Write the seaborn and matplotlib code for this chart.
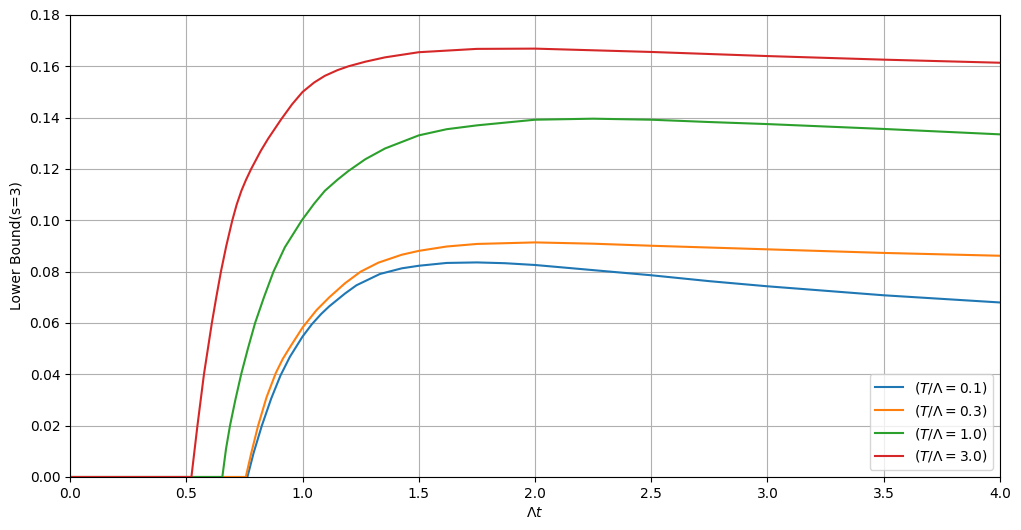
import matplotlib
matplotlib.use("Agg")
import matplotlib.pyplot as plt
import seaborn as sns
import pandas as pd

# Data
x_t01 = [0, 0.763, 0.79, 0.825, 0.865, 0.905, 0.9455, 1.0, 1.04, 1.08, 1.115, 1.183, 1.232, 1.333, 1.427, 1.5, 1.62, 1.75, 1.87, 2.0, 2.25, 2.5, 2.75, 3.0, 3.5, 4.0]
y_t01 = [0, 0, 0.0095, 0.020, 0.0305, 0.0395, 0.0468, 0.0547, 0.0595, 0.0635, 0.0665, 0.0715, 0.0747, 0.0791, 0.0813, 0.0823, 0.0834, 0.0836, 0.0833, 0.0826, 0.0806, 0.0786, 0.0763, 0.0743, 0.0708, 0.068]

x_t03 = [0, 0.756, 0.78, 0.809, 0.845, 0.885, 0.915, 0.9455, 1.0, 1.06, 1.115, 1.183, 1.25, 1.326, 1.427, 1.5, 1.62, 1.75, 2.0, 2.25, 2.5, 3.0, 3.5, 4.0]
y_t03 = [0, 0, 0.0095, 0.020, 0.031, 0.0405, 0.046, 0.0505, 0.0582, 0.0650, 0.0700, 0.0755, 0.0800, 0.0835, 0.0866, 0.0881, 0.0898, 0.0908, 0.0914, 0.0909, 0.0901, 0.0887, 0.0873, 0.0862]

x_t10 = [0, 0.655, 0.671, 0.688, 0.711, 0.736, 0.765, 0.796, 0.834, 0.875, 0.924, 0.997, 1.05, 1.096, 1.15, 1.197, 1.27, 1.355, 1.5, 1.62, 1.75, 2.0, 2.25, 2.5, 2.75, 3.0, 3.5, 4.0]
y_t10 = [0, 0, 0.011, 0.020, 0.030, 0.040, 0.050, 0.060, 0.070, 0.080, 0.0895, 0.100, 0.1065, 0.1115, 0.1158, 0.1192, 0.1238, 0.1280, 0.1331, 0.1355, 0.1370, 0.1392, 0.1396, 0.1392, 0.1383, 0.1375, 0.1356, 0.1335]

x_t30 = [0, 0.522, 0.535, 0.548, 0.562, 0.576, 0.593, 0.610, 0.629, 0.649, 0.672, 0.698, 0.717, 0.737, 0.757, 0.779, 0.82, 0.852, 0.907, 0.955, 1.0, 1.05, 1.096, 1.15, 1.197, 1.27, 1.355, 1.5, 1.75, 2.0, 2.5, 3.0, 3.5, 4.0]
y_t30 = [0, 0, 0.010, 0.020, 0.030, 0.040, 0.050, 0.060, 0.070, 0.080, 0.090, 0.100, 0.1062, 0.1115, 0.1158, 0.120, 0.1270, 0.1318, 0.1392, 0.1452, 0.1500, 0.1537, 0.1563, 0.1585, 0.1600, 0.1618, 0.1635, 0.1655, 0.1668, 0.1669, 0.1656, 0.1640, 0.1626, 0.1614]

labels = [r"$(T/\Lambda = 0.1)$", r"$(T/\Lambda = 0.3)$", r"$(T/\Lambda = 1.0)$", r"$(T/\Lambda = 3.0)$"]
colors = ["#1f77b4", "#ff7f0e", "#2ca02c", "#d62728"]
series = [(x_t01, y_t01), (x_t03, y_t03), (x_t10, y_t10), (x_t30, y_t30)]

fig = plt.figure(figsize=(10.21, 5.30), dpi=100)
ax = fig.add_axes([0.0686, 0.1, 0.9108, 0.8717])

for (xs, ys), lab, col in zip(series, labels, colors):
    df = pd.DataFrame({"x": xs, "y": ys})
    sns.lineplot(data=df, x="x", y="y", ax=ax, color=col, label=lab, linewidth=1.5, sort=False)

ax.set_xlim(0, 4)
ax.set_ylim(0, 0.18)
ax.set_xticks([0, 0.5, 1.0, 1.5, 2.0, 2.5, 3.0, 3.5, 4.0])
ax.set_yticks([0, 0.02, 0.04, 0.06, 0.08, 0.10, 0.12, 0.14, 0.16, 0.18])
ax.set_xlabel(r"$\Lambda t$")
ax.set_ylabel("Lower Bound(s=3)")
ax.grid(True)
ax.legend(loc="lower right")

fig.savefig("out.png", dpi=100)
